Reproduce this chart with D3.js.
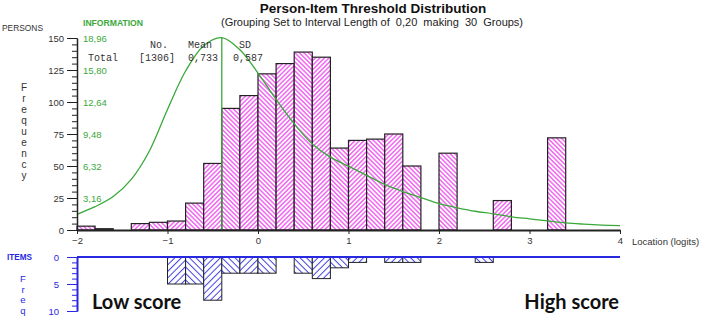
<!DOCTYPE html>
<html>
<head>
<meta charset="utf-8">
<script src="https://cdn.jsdelivr.net/npm/d3@7"></script>
<style>
	body { margin: 0; background: #fff; }
	svg { display: block; font-family: 'Liberation Sans', Arial, sans-serif; }
</style>
</head>
<body>
<svg id="chart" width="702" height="318"></svg>
<script>
// 30 groups of 0.2 logits from -2 to 4
const binStart = -2
const binWidth = 0.2
const personCounts = [3, 1, 0, 5, 6, 7, 21, 52, 95, 105, 122, 130, 139, 135, 64, 70, 71, 75, 50, 0, 60, 0, 0, 23, 0, 0, 72, 0, 0, 0]
const itemCounts = [0, 0, 0, 0, 0, 5, 5, 8, 3, 3, 3, 0, 3, 4, 2, 1, 0, 1, 1, 0, 0, 0, 1, 0, 0, 0, 0, 0, 0, 0]

// test information curve
const infoLocations = [-2, -1.8, -1.6, -1.4, -1.2, -1, -0.8, -0.6, -0.4, -0.2, 0, 0.2, 0.4, 0.6, 0.8, 1, 1.2, 1.4, 1.6, 1.8, 2, 2.2, 2.4, 2.6, 2.8, 3, 3.2, 3.4, 3.6, 3.8, 4]
const infoValues = [1.55, 2.3, 3.3, 5.0, 7.8, 11.9, 15.7, 18.2, 19.0, 17.8, 15.5, 12.9, 10.5, 8.5, 7.2, 6.3, 5.4, 4.5, 3.8, 3.2, 2.6, 2.2, 1.85, 1.6, 1.3, 1.1, 0.9, 0.7, 0.58, 0.49, 0.43]
const infoPeak = -0.4

const freqTicks = [0, 25, 50, 75, 100, 125, 150]
const infoTicks = [3.16, 6.32, 9.48, 12.64, 15.80, 18.96]
const xTicks = [-2, -1, 0, 1, 2, 3, 4]
const itemTicks = [0, 5, 10]

const statsHeader = ['No.', 'Mean', 'SD']
const statsRow = ['Total', '[1306]', '0,733', '0,587']

const title = 'Person-Item Threshold Distribution'
const subtitle = '(Grouping Set to Interval Length of  0,20  making  30  Groups)'

const colors = {
	axis: '#222',
	text: '#333',
	green: '#3aa83a',
	pink: '#f050f0',
	blue: '#2828e0',
	itemHatch: '#4040e0'
}

const svg = d3.select('#chart')
const defs = svg.append('defs')

function addHatch(id, color, spacing, width, angle) {
	const p = defs
		.append('pattern')
		.attr('id', id)
		.attr('patternUnits', 'userSpaceOnUse')
		.attr('width', spacing)
		.attr('height', spacing)
		.attr('patternTransform', `rotate(${angle})`)
	p.append('rect').attr('width', spacing).attr('height', spacing).attr('fill', '#fff')
	p.append('line')
		.attr('x1', spacing / 2)
		.attr('x2', spacing / 2)
		.attr('y1', 0)
		.attr('y2', spacing)
		.attr('stroke', color)
		.attr('stroke-width', width)
}

addHatch('pinkFwd', colors.pink, 3.2, 1.3, 45)
addHatch('pinkBack', colors.pink, 3.2, 1.3, -45)
addHatch('blueFwd', colors.itemHatch, 4.6, 1, 45)
addHatch('blueBack', colors.itemHatch, 4.6, 1, -45)

const x = d3.scaleLinear().domain([-2, 4]).range([77, 620])
const y = d3.scaleLinear().domain([0, 150]).range([230, 38])
const yInfo = d3.scaleLinear().domain([0, 18.96]).range([230, 38])
const yItem = d3.scaleLinear().domain([0, 10]).range([257, 311])

const personBins = personCounts.map((count, i) => ({ index: i, x0: binStart + i * binWidth, count }))
const itemBins = itemCounts.map((count, i) => ({ index: i, x0: binStart + i * binWidth, count }))

// titles
svg.append('text')
	.attr('x', 373)
	.attr('y', 13)
	.attr('text-anchor', 'middle')
	.attr('font-size', 13.5)
	.attr('font-weight', 'bold')
	.attr('fill', '#111')
	.text(title)

svg.append('text')
	.attr('x', 372)
	.attr('y', 26)
	.attr('text-anchor', 'middle')
	.attr('font-size', 11)
	.attr('fill', '#222')
	.style('white-space', 'pre')
	.text(subtitle)

svg.append('text')
	.attr('x', 2)
	.attr('y', 30.5)
	.attr('font-size', 9.5)
	.attr('fill', colors.text)
	.attr('textLength', 41)
	.attr('lengthAdjust', 'spacingAndGlyphs')
	.text('PERSONS')

svg.append('text')
	.attr('x', 83)
	.attr('y', 26)
	.attr('font-size', 9)
	.attr('font-weight', 'bold')
	.attr('fill', colors.green)
	.attr('textLength', 60)
	.attr('lengthAdjust', 'spacingAndGlyphs')
	.text('INFORMATION')

svg.append('g')
	.selectAll('text')
	.data('Frequency'.split(''))
	.join('text')
	.attr('x', 24)
	.attr('y', (d, i) => 91 + i * 11)
	.attr('text-anchor', 'middle')
	.attr('font-size', 10)
	.attr('fill', colors.text)
	.text(d => d)

// person bars
svg.append('g')
	.selectAll('rect')
	.data(personBins.filter(d => d.count > 0))
	.join('rect')
	.attr('x', d => x(d.x0))
	.attr('width', d => x(d.x0 + binWidth) - x(d.x0))
	.attr('y', d => y(d.count))
	.attr('height', d => y(0) - y(d.count))
	.attr('fill', d => (d.index % 2 ? 'url(#pinkFwd)' : 'url(#pinkBack)'))
	.attr('stroke', colors.axis)
	.attr('stroke-width', 1.2)

// information curve + peak marker
const infoLine = d3
	.line()
	.x((d, i) => x(infoLocations[i]))
	.y(d => yInfo(d))
	.curve(d3.curveCatmullRom)

svg.append('path')
	.attr('d', infoLine(infoValues))
	.attr('fill', 'none')
	.attr('stroke', colors.green)
	.attr('stroke-width', 1.3)

svg.append('line')
	.attr('x1', x(infoPeak))
	.attr('x2', x(infoPeak))
	.attr('y1', yInfo(infoValues[infoLocations.indexOf(infoPeak)]))
	.attr('y2', y(0))
	.attr('stroke', colors.green)
	.attr('stroke-width', 1.3)

// left frequency axis
svg.append('g')
	.attr('transform', `translate(${x(-2)},0)`)
	.attr('color', colors.axis)
	.call(d3.axisLeft(y).tickValues(d3.range(0, 151, 5)).tickSize(5).tickSizeOuter(0).tickFormat(''))

const yAxis = svg.append('g')
	.attr('transform', `translate(${x(-2)},0)`)
	.attr('color', colors.axis)
	.call(d3.axisLeft(y).tickValues(freqTicks).tickSize(10).tickSizeOuter(0).tickPadding(3))
yAxis.selectAll('text').attr('font-size', 9.5).attr('fill', colors.text).attr('font-family', null)
yAxis.select('.domain').attr('stroke-width', 1.5)

svg.append('g')
	.selectAll('text')
	.data(infoTicks)
	.join('text')
	.attr('x', 83)
	.attr('y', d => yInfo(d) + 3.5)
	.attr('font-size', 9.5)
	.attr('fill', colors.green)
	.text(d => d.toFixed(2).replace('.', ','))

// x axis
const xAxis = svg.append('g')
	.attr('transform', `translate(0,${y(0)})`)
	.attr('color', colors.axis)
	.call(d3.axisBottom(x).tickValues(xTicks).tickSize(4).tickSizeOuter(0).tickPadding(3).tickFormat(d3.format('d')))
xAxis.selectAll('text').attr('font-size', 9.5).attr('fill', colors.text).attr('font-family', null)
xAxis.select('.domain').attr('stroke-width', 2)

svg.append('text')
	.attr('x', 632)
	.attr('y', 245)
	.attr('font-size', 9.5)
	.attr('fill', colors.text)
	.text('Location (logits)')

// stats table
const mono = "'Liberation Mono', 'Courier New', monospace"
const headerX = [150, 188, 239]
const rowX = [88, 139, 188, 233]
svg.append('g')
	.selectAll('text')
	.data(statsHeader)
	.join('text')
	.attr('x', (d, i) => headerX[i])
	.attr('y', 48)
	.attr('font-family', mono)
	.attr('font-size', 10)
	.attr('fill', colors.text)
	.text(d => d)
svg.append('g')
	.selectAll('text')
	.data(statsRow)
	.join('text')
	.attr('x', (d, i) => rowX[i])
	.attr('y', 61)
	.attr('font-family', mono)
	.attr('font-size', 10)
	.attr('fill', colors.text)
	.text(d => d)

// item bars (hanging down)
svg.append('g')
	.selectAll('rect')
	.data(itemBins.filter(d => d.count > 0))
	.join('rect')
	.attr('x', d => x(d.x0))
	.attr('width', d => x(d.x0 + binWidth) - x(d.x0))
	.attr('y', yItem(0))
	.attr('height', d => yItem(d.count) - yItem(0))
	.attr('fill', d => (d.index % 2 ? 'url(#blueFwd)' : 'url(#blueBack)'))
	.attr('stroke', colors.axis)
	.attr('stroke-width', 1)

svg.append('g')
	.attr('transform', `translate(${x(-2)},0)`)
	.attr('color', colors.blue)
	.call(d3.axisLeft(yItem).tickValues(d3.range(0, 11, 1)).tickSize(5).tickSizeOuter(0).tickFormat(''))

const itemAxis = svg.append('g')
	.attr('transform', `translate(${x(-2)},0)`)
	.attr('color', colors.blue)
	.call(d3.axisLeft(yItem).tickValues(itemTicks).tickSize(10).tickSizeOuter(0).tickPadding(8))
itemAxis.selectAll('text').attr('font-size', 9.5).attr('fill', colors.blue).attr('font-family', null)
itemAxis.select('.domain').attr('stroke-width', 2)

svg.append('line')
	.attr('x1', x(-2))
	.attr('x2', x(4))
	.attr('y1', yItem(0))
	.attr('y2', yItem(0))
	.attr('stroke', colors.blue)
	.attr('stroke-width', 2)

svg.append('text')
	.attr('x', 7)
	.attr('y', 260)
	.attr('font-size', 9)
	.attr('font-weight', 'bold')
	.attr('fill', colors.blue)
	.attr('textLength', 25)
	.attr('lengthAdjust', 'spacingAndGlyphs')
	.text('ITEMS')

svg.append('g')
	.selectAll('text')
	.data('Freq'.split(''))
	.join('text')
	.attr('x', 23)
	.attr('y', (d, i) => 282 + i * 10.5)
	.attr('text-anchor', 'middle')
	.attr('font-size', 9.5)
	.attr('fill', colors.blue)
	.text(d => d)

// annotations
svg.append('text')
	.attr('x', 92)
	.attr('y', 309)
	.attr('font-family', 'Lato, sans-serif')
	.attr('font-size', 20)
	.attr('font-weight', 'bold')
	.attr('fill', '#111')
	.text('Low score')

svg.append('text')
	.attr('x', 619)
	.attr('y', 309)
	.attr('text-anchor', 'end')
	.attr('font-family', 'Lato, sans-serif')
	.attr('font-size', 20)
	.attr('font-weight', 'bold')
	.attr('fill', '#111')
	.text('High score')
</script>
</body>
</html>
